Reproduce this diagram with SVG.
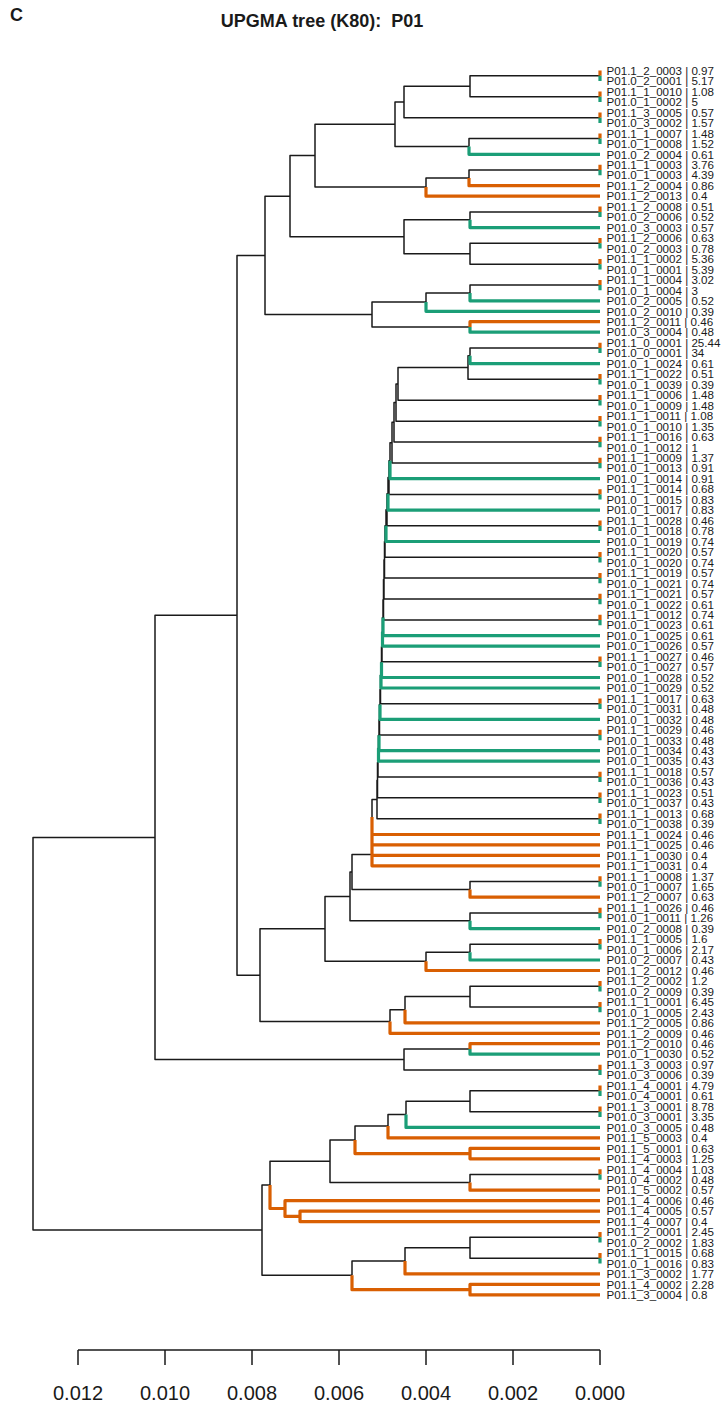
<svg xmlns="http://www.w3.org/2000/svg" width="727" height="1410" viewBox="0 0 727 1410">
<style>
.k{fill:none;stroke:#1a1a1a;stroke-width:1.5;stroke-linejoin:round}
.o{fill:none;stroke:#D95F02;stroke-width:3.2;stroke-linejoin:round}
.g{fill:none;stroke:#1B9E77;stroke-width:3.2;stroke-linejoin:round}
text{font-family:"Liberation Sans",Arial,sans-serif;fill:#1a1a1a}
.l{font-size:11.6px}
.ax{font-size:20px;text-anchor:middle}
.ti{font-size:18px;font-weight:bold;white-space:pre}
</style>
<rect width="727" height="1410" fill="#fff"/>
<text class="ti" x="10" y="21">C</text>
<text class="ti" x="322" y="27" text-anchor="middle">UPGMA tree (K80):  P01</text>
<g id="connectors">
<path class="k" d="M600 75.8H470V96.8H600 M470 86.3H404V117.7H600 M600 138.6H469V146.5 M404 102H395V146.5H469 M600 170H469V177.9 M469 177.9H426V187 M395 124.2H315V187H426 M600 211.9H470V219.7 M600 243.3H470V264.2H600 M470 219.7H404V253.8H470 M315 155.6H290V236.7H404 M600 285.1H470V293 M470 293H426V302.1 M426 302.1H372V327H470 M290 196.2H265V314.5H372 M600 347.9H470V355.7 M470 355.7H468V379.3H600
M468 367.5H398V400.2H600 M398 383.9H396V421.2H600 M396 402.5H394V442.1H600 M394 422.3H392V463H600 M392 442.7H390V460.7 M390 460.7H389V494.4H600 M389 477.5H388V493.8 M388 493.8H387V525.8H600 M387 509.8H386V525.7 M386 525.7H385V557.2H600 M385 541.4H384.5V578.1H600 M384.5 559.8H384V599H600 M384 579.4H383.5V620H600 M383.5 599.7H383V617.6 M383 617.6H382.5V631.9 M382.5 631.9H382V661.8H600 M382 646.8H381.5V662.2 M381.5 662.2H381V675.1 M381 675.1H380.5V703.7H600 M380.5 689.4H380V704.4 M380 704.4H379.5V735.1H600 M379.5 719.8H379V735.2 M379 735.2H378.5V748.2 M378.5 748.2H378V776.9H600 M378 762.6H377.5V797.8H600 M377.5 780.2H377V818.8H600 M377 799.5H372V817
M600 881.5H470V889.4 M372 854.5H352V889.4H470 M600 912.9H470V920.8 M352 872H350V920.8H470 M600 944.3H470V952.2 M470 952.2H426V961.3 M350 896.4H325V961.3H426 M600 986.2H470V1007.1H600 M470 996.6H405V1009.7 M405 1009.7H390V1021.5 M325 928.8H260V1021.5H390 M265 255.4H237V975.2H260 M470 1049H404V1069.9H600 M237 615.3H155V1059.4H404
M600 1090.8H470V1111.7H600 M470 1101.3H406V1114.4 M406 1114.4H388V1126.1 M388 1126.1H355V1139.9 M600 1174.5H470V1182.4 M355 1139.9H330V1182.4H470 M330 1161.2H270V1184.9 M600 1237.3H470V1258.2H600 M470 1247.8H405V1260.9 M405 1260.9H352V1275.3 M270 1184.9H262V1275.3H352 M155 837.4H33V1230.1H262"/>
<path class="g" d="M469 146.5V154.3H600 M470 219.7V227.6H600 M470 293V300.8H600 M426 302.1V311.3H600 M470 327V332.2H600 M470 355.7V363.6H600 M390 460.7V478.7H600 M388 493.8V510.1H600 M386 525.7V541.5H600 M383 617.6V635.6H600 M382.5 631.9V646.1H600 M381.5 662.2V677.5H600 M381 675.1V688H600 M380 704.4V719.4H600 M379 735.2V750.7H600 M378.5 748.2V761.2H600 M470 920.8V928.6H600 M470 952.2V960H600 M470 1049V1054.2H600 M406 1114.4V1127.4H600"/>
<path class="o" d="M469 177.9V185.7H600 M426 187V196.2H600 M470 327V321.7H600 M372 817V834.5H600 M372 831V844.9H600 M372 843.2V855.4H600 M372 854.5V865.8H600 M470 889.4V897.2H600 M426 961.3V970.5H600 M405 1009.7V1022.8H600 M390 1021.5V1033.3H600 M470 1049V1043.7H600 M388 1126.1V1137.9H600 M600 1148.4H470V1158.8H600 M355 1139.9V1153.6H470 M470 1182.4V1190.2H600 M600 1211.1H300V1221.6H600 M600 1200.7H285V1216.4H300 M270 1184.9V1208.5H285 M405 1260.9V1273.9H600 M600 1284.4H470V1294.9H600 M352 1275.3V1289.7H470"/>
<path class="o" d="M600 70.6V75.8 M600 91.5V96.8 M600 112.5V117.7 M600 133.4V138.6 M600 164.8V170 M600 206.6V211.9 M600 238V243.3 M600 259V264.2 M600 279.9V285.1 M600 342.7V347.9 M600 374.1V379.3 M600 395V400.2 M600 415.9V421.2 M600 436.8V442.1 M600 457.8V463 M600 489.2V494.4 M600 520.5V525.8 M600 551.9V557.2 M600 572.9V578.1 M600 593.8V599 M600 614.7V620 M600 656.6V661.8 M600 698.4V703.7 M600 729.8V735.1 M600 771.7V776.9 M600 792.6V797.8 M600 813.5V818.8 M600 876.3V881.5 M600 907.7V912.9 M600 939.1V944.3 M600 980.9V986.2 M600 1001.9V1007.1 M600 1064.7V1069.9 M600 1085.6V1090.8 M600 1106.5V1111.7 M600 1169.3V1174.5 M600 1232.1V1237.3 M600 1253V1258.2"/>
<path class="g" d="M600 75.8V81.1 M600 96.8V102 M600 117.7V122.9 M600 138.6V143.9 M600 170V175.2 M600 211.9V217.1 M600 243.3V248.5 M600 264.2V269.4 M600 285.1V290.3 M600 347.9V353.1 M600 379.3V384.5 M600 400.2V405.4 M600 421.2V426.4 M600 442.1V447.3 M600 463V468.2 M600 494.4V499.6 M600 525.8V531 M600 557.2V562.4 M600 578.1V583.3 M600 599V604.3 M600 620V625.2 M600 661.8V667 M600 703.7V708.9 M600 735.1V740.3 M600 776.9V782.1 M600 797.8V803.1 M600 818.8V824 M600 881.5V886.8 M600 912.9V918.2 M600 944.3V949.6 M600 986.2V991.4 M600 1007.1V1012.3 M600 1069.9V1075.1 M600 1090.8V1096 M600 1111.7V1117 M600 1174.5V1179.8 M600 1237.3V1242.5 M600 1258.2V1263.5"/>
</g>
<g id="leaves" class="l">
<g id="n1"><text x="606.5" y="74.8">P01.1_2_0003 | 0.97</text></g>
<g id="n2"><text x="606.5" y="85.3">P01.0_2_0001 | 5.17</text></g>
<g id="n3"><text x="606.5" y="95.7">P01.1_1_0010 | 1.08</text></g>
<g id="n4"><text x="606.5" y="106.2">P01.0_1_0002 | 5</text></g>
<g id="n5"><text x="606.5" y="116.7">P01.1_3_0005 | 0.57</text></g>
<g id="n6"><text x="606.5" y="127.1">P01.0_3_0002 | 1.57</text></g>
<g id="n7"><text x="606.5" y="137.6">P01.1_1_0007 | 1.48</text></g>
<g id="n8"><text x="606.5" y="148.1">P01.0_1_0008 | 1.52</text></g>
<g id="n9"><text x="606.5" y="158.5">P01.0_2_0004 | 0.61</text></g>
<g id="n10"><text x="606.5" y="169">P01.1_1_0003 | 3.76</text></g>
<g id="n11"><text x="606.5" y="179.4">P01.0_1_0003 | 4.39</text></g>
<g id="n12"><text x="606.5" y="189.9">P01.1_2_0004 | 0.86</text></g>
<g id="n13"><text x="606.5" y="200.4">P01.1_2_0013 | 0.4</text></g>
<g id="n14"><text x="606.5" y="210.8">P01.1_2_0008 | 0.51</text></g>
<g id="n15"><text x="606.5" y="221.3">P01.0_2_0006 | 0.52</text></g>
<g id="n16"><text x="606.5" y="231.8">P01.0_3_0003 | 0.57</text></g>
<g id="n17"><text x="606.5" y="242.2">P01.1_2_0006 | 0.63</text></g>
<g id="n18"><text x="606.5" y="252.7">P01.0_2_0003 | 0.78</text></g>
<g id="n19"><text x="606.5" y="263.2">P01.1_1_0002 | 5.36</text></g>
<g id="n20"><text x="606.5" y="273.6">P01.0_1_0001 | 5.39</text></g>
<g id="n21"><text x="606.5" y="284.1">P01.1_1_0004 | 3.02</text></g>
<g id="n22"><text x="606.5" y="294.5">P01.0_1_0004 | 3</text></g>
<g id="n23"><text x="606.5" y="305">P01.0_2_0005 | 0.52</text></g>
<g id="n24"><text x="606.5" y="315.5">P01.0_2_0010 | 0.39</text></g>
<g id="n25"><text x="606.5" y="325.9">P01.1_2_0011 | 0.46</text></g>
<g id="n26"><text x="606.5" y="336.4">P01.0_3_0004 | 0.48</text></g>
<g id="n27"><text x="606.5" y="346.9">P01.1_0_0001 | 25.44</text></g>
<g id="n28"><text x="606.5" y="357.3">P01.0_0_0001 | 34</text></g>
<g id="n29"><text x="606.5" y="367.8">P01.0_1_0024 | 0.61</text></g>
<g id="n30"><text x="606.5" y="378.3">P01.1_1_0022 | 0.51</text></g>
<g id="n31"><text x="606.5" y="388.7">P01.0_1_0039 | 0.39</text></g>
<g id="n32"><text x="606.5" y="399.2">P01.1_1_0006 | 1.48</text></g>
<g id="n33"><text x="606.5" y="409.6">P01.0_1_0009 | 1.48</text></g>
<g id="n34"><text x="606.5" y="420.1">P01.1_1_0011 | 1.08</text></g>
<g id="n35"><text x="606.5" y="430.6">P01.0_1_0010 | 1.35</text></g>
<g id="n36"><text x="606.5" y="441">P01.1_1_0016 | 0.63</text></g>
<g id="n37"><text x="606.5" y="451.5">P01.0_1_0012 | 1</text></g>
<g id="n38"><text x="606.5" y="462">P01.1_1_0009 | 1.37</text></g>
<g id="n39"><text x="606.5" y="472.4">P01.0_1_0013 | 0.91</text></g>
<g id="n40"><text x="606.5" y="482.9">P01.0_1_0014 | 0.91</text></g>
<g id="n41"><text x="606.5" y="493.4">P01.1_1_0014 | 0.68</text></g>
<g id="n42"><text x="606.5" y="503.8">P01.0_1_0015 | 0.83</text></g>
<g id="n43"><text x="606.5" y="514.3">P01.0_1_0017 | 0.83</text></g>
<g id="n44"><text x="606.5" y="524.7">P01.1_1_0028 | 0.46</text></g>
<g id="n45"><text x="606.5" y="535.2">P01.0_1_0018 | 0.78</text></g>
<g id="n46"><text x="606.5" y="545.7">P01.0_1_0019 | 0.74</text></g>
<g id="n47"><text x="606.5" y="556.1">P01.1_1_0020 | 0.57</text></g>
<g id="n48"><text x="606.5" y="566.6">P01.0_1_0020 | 0.74</text></g>
<g id="n49"><text x="606.5" y="577.1">P01.1_1_0019 | 0.57</text></g>
<g id="n50"><text x="606.5" y="587.5">P01.0_1_0021 | 0.74</text></g>
<g id="n51"><text x="606.5" y="598">P01.1_1_0021 | 0.57</text></g>
<g id="n52"><text x="606.5" y="608.5">P01.0_1_0022 | 0.61</text></g>
<g id="n53"><text x="606.5" y="618.9">P01.1_1_0012 | 0.74</text></g>
<g id="n54"><text x="606.5" y="629.4">P01.0_1_0023 | 0.61</text></g>
<g id="n55"><text x="606.5" y="639.8">P01.0_1_0025 | 0.61</text></g>
<g id="n56"><text x="606.5" y="650.3">P01.0_1_0026 | 0.57</text></g>
<g id="n57"><text x="606.5" y="660.8">P01.1_1_0027 | 0.46</text></g>
<g id="n58"><text x="606.5" y="671.2">P01.0_1_0027 | 0.57</text></g>
<g id="n59"><text x="606.5" y="681.7">P01.0_1_0028 | 0.52</text></g>
<g id="n60"><text x="606.5" y="692.2">P01.0_1_0029 | 0.52</text></g>
<g id="n61"><text x="606.5" y="702.6">P01.1_1_0017 | 0.63</text></g>
<g id="n62"><text x="606.5" y="713.1">P01.0_1_0031 | 0.48</text></g>
<g id="n63"><text x="606.5" y="723.6">P01.0_1_0032 | 0.48</text></g>
<g id="n64"><text x="606.5" y="734">P01.1_1_0029 | 0.46</text></g>
<g id="n65"><text x="606.5" y="744.5">P01.0_1_0033 | 0.48</text></g>
<g id="n66"><text x="606.5" y="754.9">P01.0_1_0034 | 0.43</text></g>
<g id="n67"><text x="606.5" y="765.4">P01.0_1_0035 | 0.43</text></g>
<g id="n68"><text x="606.5" y="775.9">P01.1_1_0018 | 0.57</text></g>
<g id="n69"><text x="606.5" y="786.3">P01.0_1_0036 | 0.43</text></g>
<g id="n70"><text x="606.5" y="796.8">P01.1_1_0023 | 0.51</text></g>
<g id="n71"><text x="606.5" y="807.3">P01.0_1_0037 | 0.43</text></g>
<g id="n72"><text x="606.5" y="817.7">P01.1_1_0013 | 0.68</text></g>
<g id="n73"><text x="606.5" y="828.2">P01.0_1_0038 | 0.39</text></g>
<g id="n74"><text x="606.5" y="838.7">P01.1_1_0024 | 0.46</text></g>
<g id="n75"><text x="606.5" y="849.1">P01.1_1_0025 | 0.46</text></g>
<g id="n76"><text x="606.5" y="859.6">P01.1_1_0030 | 0.4</text></g>
<g id="n77"><text x="606.5" y="870">P01.1_1_0031 | 0.4</text></g>
<g id="n78"><text x="606.5" y="880.5">P01.1_1_0008 | 1.37</text></g>
<g id="n79"><text x="606.5" y="891">P01.0_1_0007 | 1.65</text></g>
<g id="n80"><text x="606.5" y="901.4">P01.1_2_0007 | 0.63</text></g>
<g id="n81"><text x="606.5" y="911.9">P01.1_1_0026 | 0.46</text></g>
<g id="n82"><text x="606.5" y="922.4">P01.0_1_0011 | 1.26</text></g>
<g id="n83"><text x="606.5" y="932.8">P01.0_2_0008 | 0.39</text></g>
<g id="n84"><text x="606.5" y="943.3">P01.1_1_0005 | 1.6</text></g>
<g id="n85"><text x="606.5" y="953.8">P01.0_1_0006 | 2.17</text></g>
<g id="n86"><text x="606.5" y="964.2">P01.0_2_0007 | 0.43</text></g>
<g id="n87"><text x="606.5" y="974.7">P01.1_2_0012 | 0.46</text></g>
<g id="n88"><text x="606.5" y="985.1">P01.1_2_0002 | 1.2</text></g>
<g id="n89"><text x="606.5" y="995.6">P01.0_2_0009 | 0.39</text></g>
<g id="n90"><text x="606.5" y="1006.1">P01.1_1_0001 | 6.45</text></g>
<g id="n91"><text x="606.5" y="1016.5">P01.0_1_0005 | 2.43</text></g>
<g id="n92"><text x="606.5" y="1027">P01.1_2_0005 | 0.86</text></g>
<g id="n93"><text x="606.5" y="1037.5">P01.1_2_0009 | 0.46</text></g>
<g id="n94"><text x="606.5" y="1047.9">P01.1_2_0010 | 0.46</text></g>
<g id="n95"><text x="606.5" y="1058.4">P01.0_1_0030 | 0.52</text></g>
<g id="n96"><text x="606.5" y="1068.9">P01.1_3_0003 | 0.97</text></g>
<g id="n97"><text x="606.5" y="1079.3">P01.0_3_0006 | 0.39</text></g>
<g id="n98"><text x="606.5" y="1089.8">P01.1_4_0001 | 4.79</text></g>
<g id="n99"><text x="606.5" y="1100.2">P01.0_4_0001 | 0.61</text></g>
<g id="n100"><text x="606.5" y="1110.7">P01.1_3_0001 | 8.78</text></g>
<g id="n101"><text x="606.5" y="1121.2">P01.0_3_0001 | 3.35</text></g>
<g id="n102"><text x="606.5" y="1131.6">P01.0_3_0005 | 0.48</text></g>
<g id="n103"><text x="606.5" y="1142.1">P01.1_5_0003 | 0.4</text></g>
<g id="n104"><text x="606.5" y="1152.6">P01.1_5_0001 | 0.63</text></g>
<g id="n105"><text x="606.5" y="1163">P01.1_4_0003 | 1.25</text></g>
<g id="n106"><text x="606.5" y="1173.5">P01.1_4_0004 | 1.03</text></g>
<g id="n107"><text x="606.5" y="1184">P01.0_4_0002 | 0.48</text></g>
<g id="n108"><text x="606.5" y="1194.4">P01.1_5_0002 | 0.57</text></g>
<g id="n109"><text x="606.5" y="1204.9">P01.1_4_0006 | 0.46</text></g>
<g id="n110"><text x="606.5" y="1215.3">P01.1_4_0005 | 0.57</text></g>
<g id="n111"><text x="606.5" y="1225.8">P01.1_4_0007 | 0.4</text></g>
<g id="n112"><text x="606.5" y="1236.3">P01.1_2_0001 | 2.45</text></g>
<g id="n113"><text x="606.5" y="1246.7">P01.0_2_0002 | 1.83</text></g>
<g id="n114"><text x="606.5" y="1257.2">P01.1_1_0015 | 0.68</text></g>
<g id="n115"><text x="606.5" y="1267.7">P01.0_1_0016 | 0.83</text></g>
<g id="n116"><text x="606.5" y="1278.1">P01.1_3_0002 | 1.77</text></g>
<g id="n117"><text x="606.5" y="1288.6">P01.1_4_0002 | 2.28</text></g>
<g id="n118"><text x="606.5" y="1299.1">P01.1_3_0004 | 0.8</text></g>
</g>
<g id="axis">
<path class="k" d="M78 1350H600 M78 1350V1365 M165 1350V1365 M252 1350V1365 M339 1350V1365 M426 1350V1365 M513 1350V1365 M600 1350V1365"/>
<text class="ax" x="78" y="1400">0.012</text>
<text class="ax" x="165" y="1400">0.010</text>
<text class="ax" x="252" y="1400">0.008</text>
<text class="ax" x="339" y="1400">0.006</text>
<text class="ax" x="426" y="1400">0.004</text>
<text class="ax" x="513" y="1400">0.002</text>
<text class="ax" x="600" y="1400">0.000</text>
</g>
</svg>
